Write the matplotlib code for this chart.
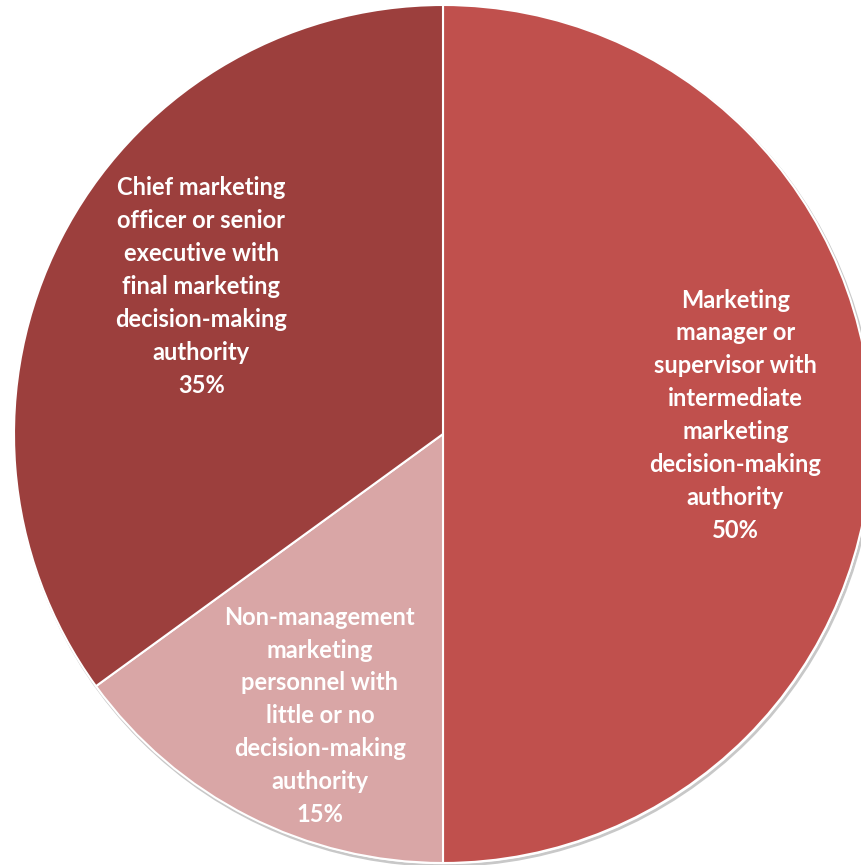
import numpy as np
import matplotlib
matplotlib.use("Agg")
import matplotlib.pyplot as plt
from matplotlib.patches import Circle

labels = [
    "Marketing\nmanager or\nsupervisor with\nintermediate\nmarketing\ndecision-making\nauthority",
    "Non-management\nmarketing\npersonnel with\nlittle or no\ndecision-making\nauthority",
    "Chief marketing\nofficer or senior\nexecutive with\nfinal marketing\ndecision-making\nauthority",
]
values = [50, 15, 35]
colors = ["#C0504D", "#D9A6A6", "#9C3F3D"]

W, H = 861, 865
fig = plt.figure(figsize=(W / 100, H / 100), dpi=100)
ax = fig.add_axes([0, 0, 1, 1])
cx, cy, R = 443, 434, 429

# subtle outer shadow
ax.add_patch(Circle((0.004, -0.006), 1.0, facecolor="none", edgecolor="#c8c8c8", lw=2.0, zorder=0))

wedges, _ = ax.pie(values, colors=colors, startangle=90, counterclock=False,
                   wedgeprops=dict(edgecolor="white", linewidth=1.5), radius=1.0,
                   frame=True)
ax.set_xlim(-cx / R, (W - cx) / R)
ax.set_ylim(-(H - cy) / R, cy / R)
ax.set_aspect("auto")
ax.axis("off")

dist = [0.683, 0.717, 0.66]
ang_off = [3.7, 3.4, -4.4]
for w, lab, v, d, off in zip(wedges, labels, values, dist, ang_off):
    mid = np.deg2rad((w.theta1 + w.theta2) / 2 + off)
    ax.text(d * np.cos(mid), d * np.sin(mid), f"{lab}\n{v}%", ha="center", va="center",
            multialignment="center", color="white", fontsize=17, fontweight="bold",
            family="Lato", linespacing=1.52)

fig.savefig("out.png", dpi=100)
